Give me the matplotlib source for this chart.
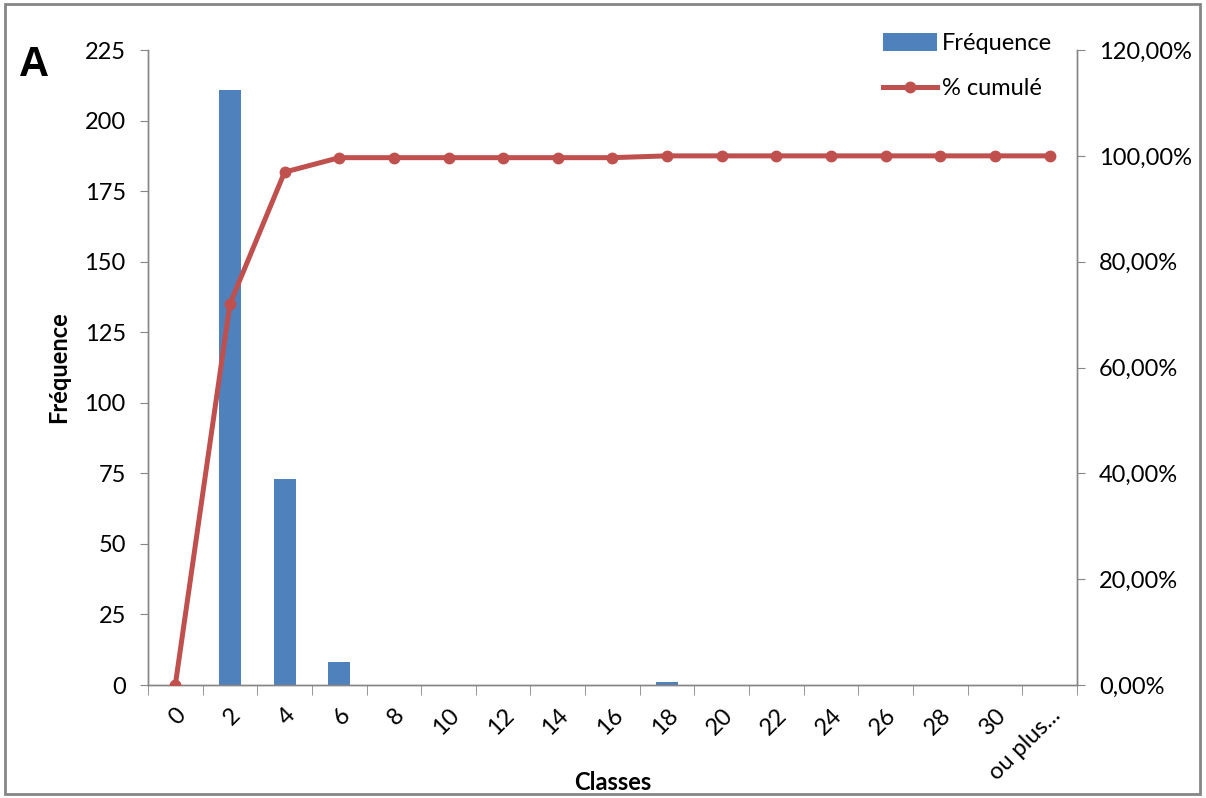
import matplotlib.pyplot as plt
from matplotlib.patches import Rectangle
from matplotlib.ticker import FuncFormatter, FixedLocator

plt.rcParams['font.family'] = ['Lato', 'DejaVu Sans']

# données
classes = ['0', '2', '4', '6', '8', '10', '12', '14', '16', '18', '20',
           '22', '24', '26', '28', '30', 'ou plus...']
frequence = [0, 211, 73, 8, 0, 0, 0, 0, 0, 1, 0, 0, 0, 0, 0, 0, 0]
cumul = [0.0, 72.01, 96.93, 99.66, 99.66, 99.66, 99.66, 99.66, 99.66,
         100.0, 100.0, 100.0, 100.0, 100.0, 100.0, 100.0, 100.0]

blue = '#4F81BD'
red = '#C0504D'
grey = '#868686'
fs = 17

fig = plt.figure(figsize=(12.06, 7.98), dpi=100)
ax = fig.add_axes([0.1227, 0.1416, 0.7703, 0.7957])
x = list(range(len(classes)))

bars = ax.bar(x, frequence, width=0.4, color=blue, zorder=2, label='Fréquence')
ax.set_ylim(0, 225)
ax.set_xlim(-0.5, len(classes) - 0.5)
ax.set_yticks(range(0, 226, 25))

ax2 = ax.twinx()
line, = ax2.plot(x, cumul, color=red, lw=3.6, marker='o', ms=7.5,
                 zorder=3, label='% cumulé')
ax2.set_ylim(0, 120)
ax2.set_yticks(range(0, 121, 20))
ax2.yaxis.set_major_formatter(FuncFormatter(lambda v, p: f'{v:.2f}'.replace('.', ',') + '%'))

# axes style
for a in (ax, ax2):
    a.spines['top'].set_visible(False)
    for s in ('left', 'right', 'bottom'):
        a.spines[s].set_color(grey)
        a.spines[s].set_linewidth(1)
ax.tick_params(axis='y', direction='out', length=6, color=grey, labelsize=fs, pad=10)
ax2.tick_params(axis='y', direction='out', length=6, color=grey, labelsize=fs, pad=10)

ax.set_xticks(x)
ax.set_xticklabels(classes, rotation=45, ha='right', va='top',
                   rotation_mode='anchor', fontsize=fs)
ax.tick_params(axis='x', which='major', length=0, pad=14)
ax.xaxis.set_minor_locator(FixedLocator([i - 0.5 for i in range(len(classes) + 1)]))
ax.tick_params(axis='x', which='minor', direction='out', length=7, color=grey)

ax.set_ylabel('Fréquence', fontsize=fs, fontweight='bold', labelpad=10)
ax.set_xlabel('Classes', fontsize=fs, fontweight='bold')
ax.xaxis.set_label_coords(0.5, -0.135)

fig.legend([bars, line], ['Fréquence', '% cumulé'], loc='upper right',
           bbox_to_anchor=(0.89, 0.985), frameon=False, fontsize=fs,
           handlelength=2.3, handleheight=0.8, labelspacing=1.0,
           handletextpad=0.2)

fig.text(0.016, 0.905, 'A', fontsize=30, fontweight='bold',
         family=['Liberation Sans', 'DejaVu Sans'])

fig.patches.append(Rectangle((0.004, 0.005), 0.991, 0.99, transform=fig.transFigure,
                             fill=False, edgecolor=grey, lw=2))

fig.savefig('out.png', dpi=100)
